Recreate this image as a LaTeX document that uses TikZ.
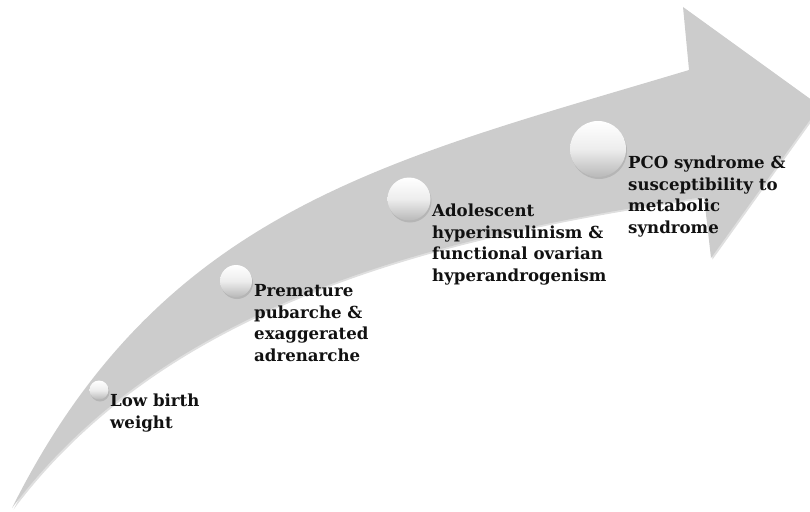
\documentclass[tikz,border=0pt]{standalone}
\usepackage{fontspec}
\setmainfont{DejaVu Serif}
\usetikzlibrary{shadows}
\definecolor{arrowgray}{HTML}{CCCCCC}
\definecolor{txtcol}{HTML}{111111}
\begin{document}
\begin{tikzpicture}[x=1pt,y=-1pt,
  stage/.style={circle, minimum size=#1, inner sep=0pt,
    top color=white, bottom color=gray!55, middle color=white!93!black,
    drop shadow={opacity=0.3, shadow xshift=1pt, shadow yshift=-2pt}},
  steptext/.style={anchor=base west, align=left, inner sep=0pt,
    font=\bfseries\fontsize{16.6}{21.5}\selectfont, text=txtcol}]
\useasboundingbox (0,0) rectangle (810,511);
\clip (0,0) rectangle (810,511);
% curved arrow
\fill[arrowgray, drop shadow={opacity=0.25, shadow xshift=1.5pt, shadow yshift=-1.5pt}]
  (12,508) .. controls (162,208) and (389,160) .. (689,70)
  -- (683,7) -- (820,106) -- (711,258) -- (704,197)
  .. controls (424,237) and (162,308) .. (12,508) -- cycle;
% stage spheres
\node[stage=19pt] (c1) at (99,390) {};
\node[stage=32pt] (c2) at (236,281) {};
\node[stage=43pt] (c3) at (409,199) {};
\node[stage=56pt] (c4) at (598,149) {};
% labels (anchored at the baseline of the last line)
\node[steptext] (t1) at (110,428) {Low birth\\weight};
\node[steptext] (t2) at (254,361) {Premature\\pubarche \&\\exaggerated\\adrenarche};
\node[steptext] (t3) at (432,281) {Adolescent\\hyperinsulinism \&\\functional ovarian\\hyperandrogenism};
\node[steptext] (t4) at (628,233) {PCO syndrome \&\\susceptibility to\\metabolic\\syndrome};
\end{tikzpicture}
\end{document}
